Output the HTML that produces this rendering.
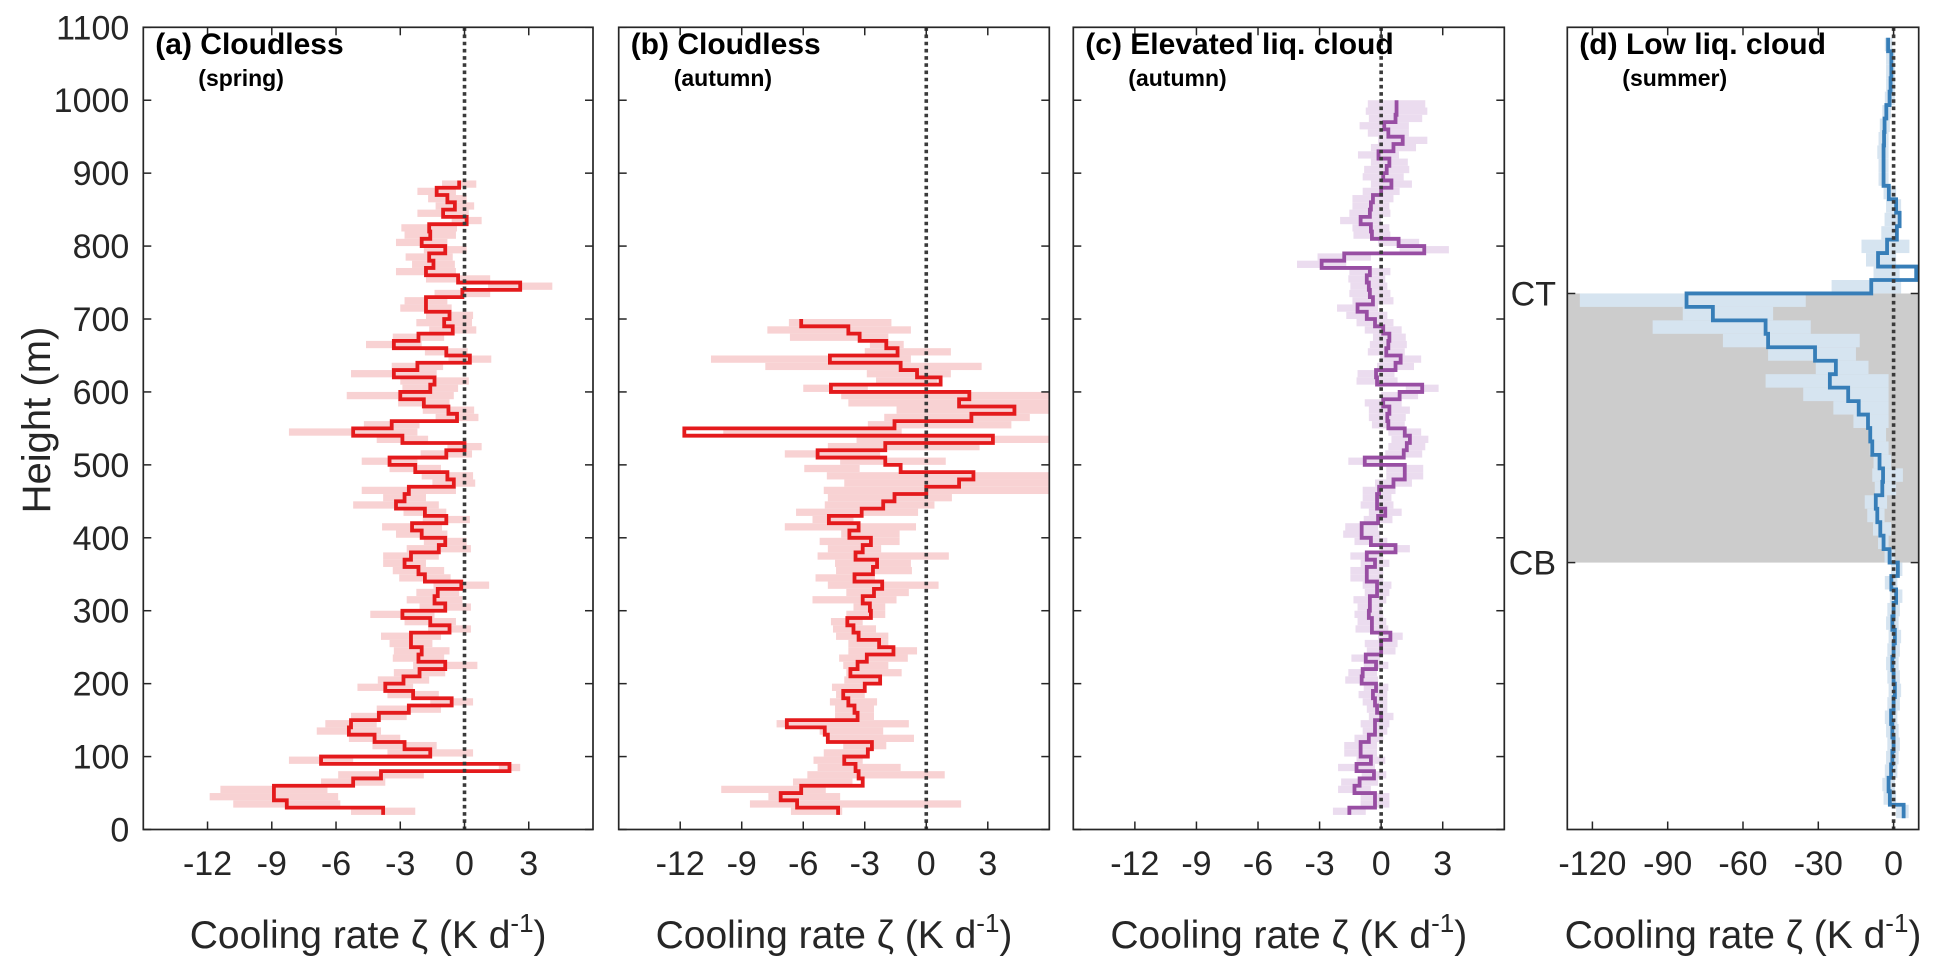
<!DOCTYPE html>
<html><head><meta charset="utf-8">
<style>
html,body{margin:0;padding:0;background:#fff;}
svg{display:block;font-family:"Liberation Sans",Arial,sans-serif;}
</style></head>
<body>
<svg id="fig" width="1938" height="958" viewBox="0 0 1938 958" xmlns="http://www.w3.org/2000/svg">
<defs>
<clipPath id="clipA"><rect x="143" y="27" width="450" height="803"/></clipPath>
<clipPath id="clipB"><rect x="619" y="27" width="431" height="803"/></clipPath>
<clipPath id="clipC"><rect x="1073" y="27" width="431" height="803"/></clipPath>
<clipPath id="clipD"><rect x="1567" y="27" width="352" height="803"/></clipPath>
</defs>
<g id="layer"></g>
</svg>
<script>
// ---------- data ----------
const aBase = 20, aStep = 10;
const aVals = [-3.8,-8.3,-8.9,-8.9,-5.2,-3.9,2.1,-6.7,-1.6,-2.8,
 -4.2,-5.4,-5.3,-4.0,-2.6,-0.6,-2.4,-3.7,-2.85,-2.1,
 -0.9,-2.15,-2.0,-2.5,-2.5,-0.7,-1.6,-2.9,-0.9,-1.4,
 -1.25,-0.15,-1.85,-2.15,-2.8,-2.5,-1.2,-0.9,-2.0,-2.45,
 -0.85,-1.85,-3.2,-2.8,-2.6,-0.5,-0.8,-2.3,-3.5,-0.85,
 0,-2.9,-5.2,-3.4,-0.35,-0.75,-1.9,-3.0,-1.6,-1.4,
 -3.3,-2.2,0.25,-0.85,-3.3,-2.15,-0.55,-0.95,-0.7,-1.8,
 -1.8,-0.1,2.6,-0.3,-1.8,-1.45,-1.65,-0.9,-2.0,-1.6,
 -1.65,0.1,-1.0,-0.45,-0.8,-1.3,-0.25];
const aErr = [1.5,2.5,3,2.5,1.5,2,0.5,1.5,2,1.5,
 1.2,1.5,1.2,1.3,1.5,1,1.2,1.3,1.2,1.2,
 1.5,1.2,1.3,1,1.4,1,1.2,1.5,1.2,1.3,
 1,1.3,1.2,1.2,1,1.3,1.5,1,1.2,1.4,
 1.1,1,2,1,2.2,1,1.2,1.2,1.3,1.2,
 0.8,1.2,3,1.3,1,1.2,1.2,2.5,1.3,1.6,
 2,1.2,1,1,1.3,1.2,1.1,1.3,1.1,1.2,
 1,1.3,1.5,1.5,1.4,1,1.1,1,1.2,1.2,
 1.3,0.7,1.2,0.9,0.9,0.9,0.8];

const bBase = 20, bStep = 10;
const bVals = [-4.3,-6.3,-7.1,-6.1,-3.1,-3.3,-3.45,-4.0,-2.85,-2.65,
 -4.8,-4.95,-6.8,-3.35,-3.5,-3.8,-4.05,-3.0,-2.25,-3.7,
 -3.35,-2.9,-1.6,-2.3,-3.3,-3.55,-3.85,-2.7,-2.75,-3.1,
 -2.55,-2.15,-3.5,-2.6,-2.4,-3.45,-3.1,-2.7,-3.75,-3.3,
 -4.75,-3.15,-2.1,-1.55,0,1.6,2.3,-1.25,-2.0,-5.3,
 -2.0,3.25,-11.8,-1.55,2.2,4.3,1.6,2.1,-4.65,0.7,
 -0.45,-1.25,-4.7,-1.4,-1.95,-3.25,-3.8,-6.1];
const bLo = [-6.6,-8.6,-7.7,-10.0,-6.5,-5.8,-5.3,-5.5,-5.0,-4.05,
 -4.9,-5.2,-7.3,-4.45,-4.45,-4.7,-4.4,-4.6,-4.0,-3.9,
 -4.05,-4.25,-3.8,-3.8,-4.4,-4.55,-4.65,-3.9,-3.55,-5.55,
 -3.9,-4.8,-5.4,-4.4,-4.45,-5.3,-4.8,-5.2,-4.15,-6.9,
 -5.55,-6.35,-4.95,-4.8,-5.0,-4.0,-4.85,-5.95,-4.2,-6.9,
 -4.8,-3.4,-9.9,-2.85,-2.05,-1.45,-3.8,-4.15,-6.0,-2.45,
 -2.9,-7.85,-10.5,-3.0,-2.75,-6.65,-7.75,-6.7];
const bHi = [-4.1,1.7,-4.2,-4.9,-3.6,0.9,-1.25,-3.1,-2.75,-1.95,
 -0.6,-2.1,-0.85,-2.55,-2.55,-2.4,-3.0,-3.0,-2.2,-1.2,
 -1.85,-0.9,-0.45,-1.85,-1.85,-2.45,-3.1,-2.0,-2.0,-1.45,
 -0.85,0.6,-2.5,-0.7,-0.75,1.1,-2.2,-1.3,-1.3,-0.5,
 -3.55,-0.4,0.4,1.25,6.0,6.0,6.0,-3.25,0.95,-2.25,
 2.6,6.0,-1.2,4.15,5.05,6.0,6.0,6.0,-2.85,0.55,
 1.2,2.7,-0.75,1.2,-1.1,-1.85,-0.75,-1.7];

const cBase = 20, cStep = 10;
const cVals = [-1.55,-0.3,-0.3,-1.3,-1.05,-0.35,-1.2,-0.5,-1.0,-1.0,
 -0.6,-0.3,-0.3,0,-0.2,-0.3,-0.4,-0.25,-0.95,-0.9,
 -0.25,-0.75,0,0,0.45,-0.45,-0.45,-0.6,-0.55,-0.55,
 -0.2,-0.2,-0.7,-0.7,-0.3,-0.7,0.7,-0.5,-0.95,-0.95,
 -0.15,0.2,-0.2,-0.2,-0.1,0.6,1.15,1.15,-0.8,1.1,
 1.25,1.4,1.15,0.35,0.3,0.4,0.1,0.9,2.0,-0.2,
 -0.25,0.7,0.95,0.25,0.35,0.4,0.1,-0.3,-0.7,-1.15,
 -0.4,-0.55,-0.6,-0.7,-0.55,-2.9,-1.8,2.1,0.85,-0.45,
 -0.5,-1.0,-0.55,-0.5,-0.4,0,0.5,0.1,0.27,0.4,
 -0.13,0.6,1.05,0.35,0.15,0.7,0.75,0.75];
const cErr = [0.8,0.7,0.7,0.8,0.9,0.6,0.9,0.7,0.8,0.8,
 0.7,0.6,0.7,0.6,0.5,0.6,0.7,0.6,0.8,0.7,
 0.6,0.7,0.7,0.8,0.6,0.8,0.7,0.7,0.6,0.8,
 0.6,0.7,0.8,0.8,0.7,0.8,0.7,0.8,0.9,0.8,
 0.7,0.8,0.8,0.7,0.8,0.9,0.9,0.9,0.8,0.9,
 0.9,0.9,0.8,0.8,0.9,1.0,0.9,0.9,0.8,1.0,
 0.9,0.9,1.0,0.9,0.9,0.8,0.9,0.9,1.0,1.0,
 1.0,1.0,0.9,0.9,1.0,1.2,1.3,1.2,1.0,0.9,
 0.9,1.0,1.0,0.9,1.0,0.9,1.0,1.0,1.1,0.9,
 1.0,1.1,1.2,1.0,1.2,1.3,1.5,1.4];

const dBase = 15.5, dStep = 18.45;
const dCloudBase = 366, dCloudTop = 735;
const dVals = [4,-1.5,-2,-1,-0.5,0,-0.5,-1,0,0.5,0,-0.5,0,0.5,-0.5,0,1,-0.9,1.7,
 -1.6,-4.0,-5.3,-6.5,-7.1,-4.5,-4.2,-5.6,-8.5,-9.3,-10.2,-13.9,-18.1,-25.4,-23,-31.3,-50,-51,-72,-82.5,
 -8.9,9,-6.2,-2.6,1.3,2.4,1.0,-1.9,-4.0,-4.0,-4.0,-3.8,-3.6,-2.9,-1.6,-1.2,-0.9,-0.9,-2.2];
const dLo = [1,-4,-4.5,-3.5,-3,-2.5,-3,-3.5,-2.5,-2,-2.5,-3,-2.5,-2,-3,-2.5,-1.5,-3.5,-1,
 -3.6,-6.2,-8.2,-10.5,-11.5,-7.5,-8.5,-8,-9.5,-10,-16,-24,-36,-51,-31,-50,-68,-96,-84,-125,
 -24.7,-8,-11,-12.8,-4.9,-3.6,-3,-4,-6,-6,-6.5,-6,-5.5,-4.5,-3.5,-3,-3,-3,-3.5];
const dHi = [6,1,0.5,1.5,2,2.5,2,1.5,2.5,3,2.5,2,2.5,3,2,2.5,3.5,1.5,3.5,
 0.4,-2,-1,-3.6,-2.6,1,3.7,-1,-2,-3,-2,-2,-2,-2,-10,-15,-13.5,-33,-48,-35,
 3,2.4,1,6.3,2,2.4,3,1,-2,-2,-2,-2,-1.5,-1,0.5,0.5,0.5,0.5,-0.5];

const xTicksABC = [-12,-9,-6,-3,0,3];
const xTicksD = [-120,-90,-60,-30,0];
const yTicks = [0,100,200,300,400,500,600,700,800,900,1000,1100];

// ---------- layout ----------
const NS = "http://www.w3.org/2000/svg";
const layer = document.getElementById('layer');
const Y0 = 829.5, Y1 = 27.3, HMAX = 1100;
function yS(h){ return Y0 - (h/HMAX)*(Y0-Y1); }
function mk(tag, attrs, parent){
  const e = document.createElementNS(NS, tag);
  for (const k in attrs) e.setAttribute(k, attrs[k]);
  (parent||layer).appendChild(e);
  return e;
}
const panels = [
 {id:'a', x0:143.3, x1:593, xmin:-15, xmax:6, clip:'clipA', title:'(a) Cloudless', sub:'(spring)', color:'#e41a1c', shade:'#f8d2d3', ylabels:true},
 {id:'b', x0:618.7, x1:1049.3, xmin:-15, xmax:6, clip:'clipB', title:'(b) Cloudless', sub:'(autumn)', color:'#e41a1c', shade:'#f8d2d3'},
 {id:'c', x0:1073.3, x1:1504.3, xmin:-15, xmax:6, clip:'clipC', title:'(c) Elevated liq. cloud', sub:'(autumn)', color:'#984ea3', shade:'#ebdcef'},
 {id:'d', x0:1567.3, x1:1918.7, xmin:-130, xmax:10, clip:'clipD', title:'(d) Low liq. cloud', sub:'(summer)', color:'#377eb8', shade:'#d6e4f0'}
];
function xFn(p){ return v => p.x0 + (v - p.xmin)/(p.xmax - p.xmin)*(p.x1 - p.x0); }

function drawProfile(p, base, step, vals, lo, hi){
  const xS = xFn(p);
  const g = mk('g', {'clip-path':'url(#'+p.clip+')'});
  
  
  if (p.id === 'd') {
    const cloud = mk('rect', {x:p.x0, y:yS(dCloudTop), width:p.x1-p.x0, height:yS(dCloudBase)-yS(dCloudTop), fill:'#cccccc'}, g);
    
    
  }
  for (let i=0;i<vals.length;i++){
    const h0 = base + i*step, h1 = h0 + step;
    const a = xS(lo[i]), b = xS(hi[i]);
    const r = mk('rect', {x:Math.min(a,b), y:yS(h1), width:Math.abs(b-a), height:yS(h0)-yS(h1), fill:p.shade}, g);
    
    
  }
  let d = '';
  for (let i=0;i<vals.length;i++){
    const h0 = base + i*step, h1 = h0 + step;
    const x = xS(vals[i]).toFixed(2);
    d += (i===0 ? 'M' : 'L') + x + ',' + yS(h0).toFixed(2) + 'L' + x + ',' + yS(h1).toFixed(2);
  }
  const line = mk('path', {d:d, fill:'none', stroke:p.color, 'stroke-width':3.8, 'stroke-linejoin':'miter'}, g);
  
  
  const z = mk('line', {x1:xS(0), x2:xS(0), y1:Y1, y2:Y0, stroke:'#3a3a3a', 'stroke-width':3.6, 'stroke-dasharray':'3.6,3.6'});
  
  
}

function drawAxes(p, xticks){
  const xS = xFn(p);
  const g = mk('g', {});
  
  
  const box = mk('rect', {x:p.x0, y:Y1, width:p.x1-p.x0, height:Y0-Y1, fill:'none', stroke:'#262626', 'stroke-width':1.7}, g);
  
  
  const TL = 8;
  xticks.forEach(t => {
    const x = xS(t);
    mk('line', {x1:x, x2:x, y1:Y0, y2:Y0-TL, stroke:'#262626', 'stroke-width':1.5}, g);
    mk('line', {x1:x, x2:x, y1:Y1, y2:Y1+TL, stroke:'#262626', 'stroke-width':1.5}, g);
    const tx = mk('text', {x:x, y:875, 'font-size':34, fill:'#262626', 'text-anchor':'middle'}, g);
    
    
    tx.textContent = String(t);
  });
  const yt = p.id === 'd' ? [dCloudBase, dCloudTop] : yTicks;
  yt.forEach(h => {
    const y = yS(h);
    mk('line', {x1:p.x0, x2:p.x0+TL, y1:y, y2:y, stroke:'#262626', 'stroke-width':1.5}, g);
    mk('line', {x1:p.x1, x2:p.x1-TL, y1:y, y2:y, stroke:'#262626', 'stroke-width':1.5}, g);
    if (p.ylabels) {
      const tx = mk('text', {x:p.x0-14, y:y+12, 'font-size':34, fill:'#262626', 'text-anchor':'end'}, g);
      
      
      tx.textContent = h;
    }
  });
  const t1 = mk('text', {x:p.x0+12, y:54, 'font-size':30, 'font-weight':'bold', fill:'#000'}, g);
  
  
  t1.textContent = p.title;
  const t2 = mk('text', {x:p.x0+55, y:86, 'font-size':23, 'font-weight':'bold', fill:'#000'}, g);
  
  
  t2.textContent = p.sub;
  const xl = mk('text', {x:(p.x0+p.x1)/2, y:948, 'font-size':39, fill:'#262626', 'text-anchor':'middle'}, g);
  
  
  xl.innerHTML = 'Cooling rate ζ (K d<tspan font-size="26" dy="-16">-1</tspan><tspan dy="16">)</tspan>';
}

drawProfile(panels[0], aBase, aStep, aVals, aVals.map((v,i)=>v-aErr[i]), aVals.map((v,i)=>v+aErr[i]));
drawProfile(panels[1], bBase, bStep, bVals, bLo, bHi);
drawProfile(panels[2], cBase, cStep, cVals, cVals.map((v,i)=>v-cErr[i]), cVals.map((v,i)=>v+cErr[i]));
drawProfile(panels[3], dBase, dStep, dVals, dLo, dHi);
drawAxes(panels[0], xTicksABC);
drawAxes(panels[1], xTicksABC);
drawAxes(panels[2], xTicksABC);
drawAxes(panels[3], xTicksD);

const ct = mk('text', {x:1556, y:yS(dCloudTop)+12, 'font-size':34, fill:'#262626', 'text-anchor':'end'});


ct.textContent = 'CT';
const cb = mk('text', {x:1556, y:yS(dCloudBase)+12, 'font-size':34, fill:'#262626', 'text-anchor':'end'});


cb.textContent = 'CB';

const yl = mk('text', {x:0, y:0, 'font-size':40, fill:'#262626', 'text-anchor':'middle', transform:'translate(50,420) rotate(-90)'});


yl.textContent = 'Height (m)';
</script>
</body></html>
